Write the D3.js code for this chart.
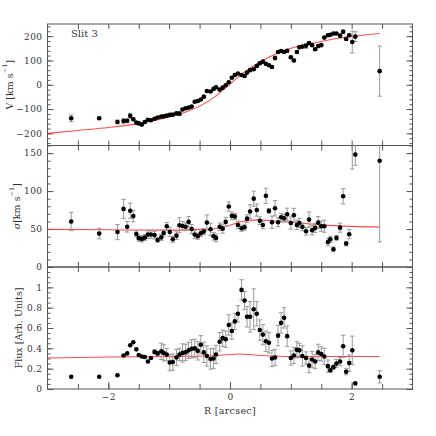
<!DOCTYPE html>
<html lang="en">
<head>
<meta charset="UTF-8">
<title>Slit 3</title>
<script src="https://d3js.org/d3.v7.min.js"></script>
<style>
  body { margin: 0; background: #fff; }
  svg { display: block; }
  text { font-family: "DejaVu Serif", "Liberation Serif", serif; fill: #333; }
  .tick text { font-size: 9px; letter-spacing: 0.4px; }
</style>
</head>
<body>
<svg id="chart" width="436" height="436"></svg>
<script>
// radius along the slit (arcsec), same bins for all three panels
const R = [-2.61, -2.15, -1.85,
  -1.75, -1.69, -1.64, -1.59, -1.54, -1.50, -1.45, -1.40, -1.35, -1.30,
  -1.24, -1.19, -1.13, -1.09, -1.04, -0.99, -0.94, -0.88, -0.83, -0.78,
  -0.73, -0.68, -0.63, -0.58, -0.53, -0.48, -0.43, -0.38, -0.32, -0.27,
  -0.23, -0.17, -0.12, -0.07, -0.02, 0.03, 0.08, 0.13, 0.19, 0.24,
  0.28, 0.33, 0.39, 0.44, 0.49, 0.54, 0.59, 0.64, 0.69, 0.74,
  0.79, 0.84, 0.89, 0.94, 1.00, 1.05, 1.10, 1.14, 1.19, 1.25,
  1.30, 1.35, 1.40, 1.45, 1.50, 1.55, 1.61, 1.65, 1.70, 1.75,
  1.81, 1.86, 1.91, 1.96, 2.01, 2.06, 2.46];

const velocity = [-138, -138, -153,
  -149, -148, -128, -142, -156, -159, -164, -153, -144, -146,
  -140, -135, -131, -130, -127, -124, -123, -118, -119, -102,
  -97, -94, -90, -70, -67, -61, -49, -26, -28, -17,
  -10, -20, -12, -2, 10, 29, 40, 46, 40, 36,
  50, 60, 64, 77, 88, 95, 86, 80, 73, 110,
  135, 139, 135, 140, 113, 100, 135, 154, 157, 160,
  172, 163, 146, 159, 163, 194, 204, 206, 211, 211,
  202, 218, 188, 204, 176, 198, 56];
const velocityErr = [14, 5, 8,
  10, 8, 10, 6, 4, 4, 4, 4, 4, 4,
  4, 4, 4, 4, 4, 4, 4, 4, 8, 4,
  4, 4, 4, 4, 4, 4, 4, 4, 4, 4,
  4, 4, 4, 4, 4, 4, 4, 4, 4, 4,
  4, 4, 4, 4, 4, 4, 4, 4, 5, 8,
  4, 4, 4, 5, 5, 6, 5, 4, 4, 10,
  4, 4, 5, 4, 4, 4, 4, 4, 4, 4,
  4, 8, 5, 5, 45, 20, 103];

const sigma = [60, 44, 46,
  76.5, 53, 74, 67, 43.5, 38, 37, 38.7, 42.7, 42.7,
  42, 35.6, 39, 44.8, 53.6, 46, 36.5, 41.3, 55, 54,
  53, 59.4, 50, 42.7, 40.5, 44.4, 46.6, 58.5, 49.7, 40.5,
  38.3, 53, 50.5, 59.4, 79.6, 67.3, 66.4, 55.4, 51, 52.4,
  63.7, 73, 90, 75, 61, 55.4, 93.7, 73.9, 59, 77.4,
  59, 65.6, 64.2, 69.5, 58, 68.2, 55.4, 58, 52.8, 47,
  62.4, 48.4, 51.5, 58.4, 53.7, 53.7, 33, 36.5, 23.3, 38.3,
  51.8, 93.2, 30.8, 43.1, 175, 148, 140];
const sigmaErr = [12, 7, 10,
  12.5, 7, 10, 7.5, 4, 4, 4, 4, 5, 5,
  5, 3, 4, 4, 5, 6, 4, 5, 10, 6,
  5, 7, 6, 5, 4, 4, 4, 10, 8, 5,
  5, 5, 6, 6, 6, 5, 4, 5, 4, 4,
  5, 9, 10, 8, 5, 5, 10, 3, 8, 10,
  6, 5, 5, 8, 8, 9, 6, 6, 5, 5,
  10, 6, 6, 8, 7, 8, 5, 4, 3, 3,
  6, 10, 3, 6, 46, 14, 107];

const flux = [0.12, 0.12, 0.135,
  0.33, 0.35, 0.43, 0.46, 0.39, 0.335, 0.32, 0.315, 0.27, 0.305,
  0.365, 0.35, 0.37, 0.355, 0.34, 0.26, 0.265, 0.31, 0.34, 0.355,
  0.36, 0.38, 0.395, 0.40, 0.375, 0.435, 0.36, 0.325, 0.295, 0.30,
  0.34, 0.465, 0.50, 0.49, 0.63, 0.57, 0.665, 0.74, 0.975, 0.87,
  0.71, 0.71, 0.785, 0.74, 0.58, 0.535, 0.47, 0.455, 0.30, 0.31,
  0.525, 0.65, 0.70, 0.52, 0.305, 0.33, 0.385, 0.38, 0.325, 0.305,
  0.23, 0.29, 0.27, 0.36, 0.345, 0.32, 0.225, 0.185, 0.215, 0.25,
  0.27, 0.42, 0.17, 0.255, 0.38, 0.055, 0.12];
const fluxErr = [0, 0, 0,
  0, 0, 0, 0, 0, 0, 0, 0, 0, 0,
  0.02, 0.02, 0.08, 0.08, 0.06, 0.08, 0.08, 0.08, 0.06, 0.09,
  0.08, 0.08, 0.09, 0.09, 0.09, 0.09, 0.10, 0.10, 0.10, 0.10,
  0.09, 0.09, 0.08, 0.08, 0.10, 0.08, 0.08, 0.08, 0.10, 0.09,
  0.10, 0.15, 0.20, 0.12, 0.10, 0.10, 0.10, 0.10, 0.08, 0.08,
  0.10, 0.10, 0.10, 0.10, 0.07, 0.08, 0.08, 0.07, 0.10, 0.06,
  0.07, 0.08, 0.07, 0.08, 0.07, 0.08, 0.06, 0.02, 0.02, 0.04,
  0.04, 0.11, 0.03, 0.08, 0.14, 0, 0.06];

// model curves (red)
const velModelR = [-3, -2.5, -2, -1.5, -1, -0.75, -0.5, -0.25, 0, 0.25, 0.5, 0.75, 1, 1.25, 1.5, 1.75, 2, 2.25, 2.46];
const velModel = [-200, -188, -176, -160, -133, -114, -88, -50, 3, 55, 95, 127, 150, 166, 178, 190, 199, 206, 211];
const sigModelR = [-3, -2, -1, -0.5, -0.3, -0.15, 0, 0.2, 0.45, 0.7, 1, 1.5, 2, 2.46];
const sigModel = [49.5, 49, 48.5, 49.5, 50, 52, 55, 60, 62, 61, 59, 55.5, 53.5, 52.5];
const fluxModelR = [-3, -2, -1, -0.4, -0.1, 0.15, 0.4, 0.7, 1.2, 2.46];
const fluxModel = [0.305, 0.315, 0.32, 0.325, 0.335, 0.345, 0.335, 0.325, 0.32, 0.32];

const xTicksMajor = [-2, 0, 2];
const xTicksMinor = d3.range(-2.5, 3, 0.5);

const panels = [
  { top: 24, bottom: 145.5, domain: [-250, 250], major: [-200, -100, 0, 100, 200], minor: d3.range(-240, 250, 20),
    values: velocity, errors: velocityErr, modelR: velModelR, model: velModel, labelX: 9, label: "V" },
  { top: 145.5, bottom: 267, domain: [0, 160], major: [0, 50, 100, 150], minor: d3.range(0, 161, 10),
    values: sigma, errors: sigmaErr, modelR: sigModelR, model: sigModel, labelX: 16, label: "sigma" },
  { top: 267, bottom: 389, domain: [0, 1.2], major: [0, 0.2, 0.4, 0.6, 0.8, 1], minor: d3.range(0, 1.2001, 0.05),
    values: flux, errors: fluxErr, modelR: fluxModelR, model: fluxModel, labelX: 18, label: "flux" }
];

const left = 47.5, right = 412.5;
const svg = d3.select("#chart");
const x = d3.scaleLinear().domain([-3, 3]).range([left, right]);
const fmt = d3.format("~g");

panels.forEach((p, i) => {
  const y = d3.scaleLinear().domain(p.domain).range([p.bottom, p.top]);
  const h = p.bottom - p.top;
  const g = svg.append("g");

  const clipId = "clip" + i;
  svg.append("clipPath").attr("id", clipId)
    .append("rect").attr("x", left).attr("y", p.top).attr("width", right - left).attr("height", h);

  // ticks, all pointing inward
  const addAxis = (axis, tx, ty) => {
    const a = g.append("g").attr("transform", `translate(${tx},${ty})`).call(axis);
    a.select(".domain").remove();
    a.selectAll(".tick line").attr("stroke", "#555");
    return a;
  };
  addAxis(d3.axisLeft(y).tickValues(p.minor).tickSize(-3).tickFormat(""), left, 0);
  addAxis(d3.axisRight(y).tickValues(p.minor).tickSize(-3).tickFormat(""), right, 0);
  addAxis(d3.axisLeft(y).tickValues(p.major).tickSize(-6).tickPadding(5).tickFormat(fmt), left, 0)
    .selectAll(".tick text").attr("fill", "#333");
  addAxis(d3.axisRight(y).tickValues(p.major).tickSize(-6).tickFormat(""), right, 0);
  addAxis(d3.axisTop(x).tickValues(xTicksMinor).tickSize(-5).tickFormat(""), 0, p.top);
  addAxis(d3.axisBottom(x).tickValues(xTicksMinor).tickSize(-5).tickFormat(""), 0, p.bottom);
  if (i === 2) {
    addAxis(d3.axisBottom(x).tickValues(xTicksMajor).tickSize(-7).tickPadding(5).tickFormat(fmt), 0, p.bottom)
      .selectAll(".tick text").attr("fill", "#333");
  }

  // frame
  g.append("rect").attr("x", left).attr("y", p.top).attr("width", right - left).attr("height", h)
    .attr("fill", "none").attr("stroke", "#555").attr("stroke-width", 1);

  const plot = g.append("g").attr("clip-path", `url(#${clipId})`);

  // model
  const line = d3.line().x((d, k) => x(p.modelR[k])).y(d => y(d)).curve(d3.curveMonotoneX);
  plot.append("path").datum(p.model).attr("d", line)
    .attr("fill", "none").attr("stroke", "#ff2a2a").attr("stroke-width", 1.1).attr("stroke-opacity", 0.85);

  // error bars
  const pts = R.map((r, k) => ({ r, v: p.values[k], e: p.errors[k] }));
  const bars = plot.selectAll(".err").data(pts.filter(d => d.e > 0)).enter().append("g")
    .attr("stroke", "#999").attr("stroke-width", 1);
  bars.append("line").attr("x1", d => x(d.r)).attr("x2", d => x(d.r))
    .attr("y1", d => y(d.v - d.e)).attr("y2", d => y(d.v + d.e));
  bars.append("line").attr("x1", d => x(d.r) - 2.2).attr("x2", d => x(d.r) + 2.2)
    .attr("y1", d => y(d.v - d.e)).attr("y2", d => y(d.v - d.e));
  bars.append("line").attr("x1", d => x(d.r) - 2.2).attr("x2", d => x(d.r) + 2.2)
    .attr("y1", d => y(d.v + d.e)).attr("y2", d => y(d.v + d.e));

  // points
  plot.selectAll(".pt").data(pts).enter().append("circle")
    .attr("cx", d => x(d.r)).attr("cy", d => y(d.v)).attr("r", 2.3).attr("fill", "#000");

  // y label
  const cy = (p.top + p.bottom) / 2;
  const t = svg.append("text").attr("transform", `translate(${p.labelX},${cy}) rotate(-90)`)
    .attr("text-anchor", "middle").attr("dominant-baseline", "central").attr("font-size", 9.5);
  if (p.label === "V") {
    t.append("tspan").text("V [km s");
    t.append("tspan").attr("font-size", 6.5).attr("dy", -4).text("−1");
    t.append("tspan").attr("dy", 4).text("]");
  } else if (p.label === "sigma") {
    t.append("tspan").attr("font-style", "italic").text("σ");
    t.append("tspan").text("[km s");
    t.append("tspan").attr("font-size", 6.5).attr("dy", -4).text("−1");
    t.append("tspan").attr("dy", 4).text("]");
  } else {
    t.text("Flux [Arb. Units]");
  }
});

svg.append("text").attr("x", 71).attr("y", 37).attr("font-size", 10).text("Slit 3");
svg.append("text").attr("x", 230).attr("y", 414).attr("text-anchor", "middle").attr("font-size", 9.5)
  .attr("letter-spacing", 0.3).text("R [arcsec]");
</script>
</body>
</html>
